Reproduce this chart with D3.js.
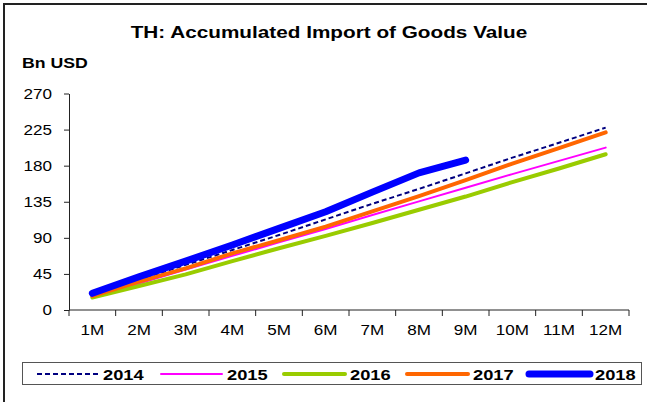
<!DOCTYPE html>
<html>
<head>
<meta charset="utf-8">
<script src="https://cdn.jsdelivr.net/npm/d3@7"></script>
<style>
  html, body { margin: 0; padding: 0; background: #fff; }
  svg { display: block; font-family: "Liberation Sans", Arial, sans-serif; }
</style>
</head>
<body>
<svg id="chart" width="647" height="402"></svg>
<script>
// Months on the category axis
const months = ["1M", "2M", "3M", "4M", "5M", "6M", "7M", "8M", "9M", "10M", "11M", "12M"];
// Y axis ticks (Bn USD)
const yTicks = [0, 45, 90, 135, 180, 225, 270];

// Accumulated import value, Bn USD
const y2014 = [20.2, 37.6, 56.3, 74.8, 93.5, 113.0, 132.5, 151.0, 170.4, 190.0, 208.5, 227.5];
const y2015 = [17.0, 33.0, 50.5, 67.5, 84.3, 101.0, 118.5, 135.5, 152.5, 169.5, 186.0, 202.5];
const y2016 = [15.5, 30.0, 44.5, 61.0, 77.0, 92.5, 108.5, 125.0, 141.5, 159.5, 176.5, 194.2];
const y2017 = [17.5, 35.3, 52.0, 70.7, 87.0, 104.0, 123.0, 142.0, 162.0, 182.5, 202.0, 221.5];
const y2018 = [20.8, 41.5, 61.0, 81.0, 101.8, 122.6, 147.0, 171.0, 187.0];

const series = [
  { name: "2014", values: y2014, color: "#000080", width: 2, dash: "5,3" },
  { name: "2015", values: y2015, color: "#FF00FF", width: 2, dash: null },
  { name: "2016", values: y2016, color: "#99CC00", width: 4, dash: null },
  { name: "2017", values: y2017, color: "#FF6600", width: 4, dash: null },
  { name: "2018", values: y2018, color: "#0000FF", width: 7, dash: null }
];

const svg = d3.select("#chart");
const STRETCH = 1.22; // text is set slightly wide

// helper: text placed at (x, y), widened horizontally
function label(parent, x, y, str, opts) {
  const t = parent.append("text")
    .attr("transform", `translate(${x},${y}) scale(${STRETCH},1)`)
    .attr("text-anchor", opts.anchor || "start")
    .attr("font-size", opts.size)
    .attr("font-weight", opts.bold ? "bold" : "normal")
    .attr("fill", "#000")
    .text(str);
  return t;
}

// outer frame (top and left edges)
svg.append("path")
  .attr("d", "M4,402 L4,4 L647,4")
  .attr("fill", "none")
  .attr("stroke", "#222")
  .attr("stroke-width", 2);

// title
label(svg, 329, 38, "TH: Accumulated Import of Goods Value", { size: 17, bold: true, anchor: "middle" });
label(svg, 22, 68, "Bn USD", { size: 14.5, bold: true });

const plot = { left: 69, right: 629, top: 93.5, bottom: 310 };

const x = d3.scaleBand().domain(months).range([plot.left, plot.right]).paddingInner(0).paddingOuter(0);
const y = d3.scaleLinear().domain([0, 270]).range([plot.bottom, plot.top]);

// y axis
const yAxis = svg.append("g")
  .attr("transform", `translate(${plot.left},0)`)
  .call(d3.axisLeft(y).tickValues(yTicks).tickSize(5).tickSizeOuter(0).tickFormat(""));
yAxis.selectAll("line, path").attr("stroke", "#222");
const yLab = svg.append("g");
yTicks.forEach(v => label(yLab, 52, y(v) + 5, String(v), { size: 14, anchor: "end" }));

// x axis with ticks on category boundaries
const xAxis = svg.append("g")
  .attr("transform", `translate(0,${plot.bottom})`);
xAxis.append("line")
  .attr("x1", plot.left).attr("x2", plot.right)
  .attr("stroke", "#222");
const bounds = months.map(m => x(m)).concat([plot.right]);
xAxis.selectAll("line.tick")
  .data(bounds).enter().append("line")
  .attr("class", "tick")
  .attr("x1", d => d).attr("x2", d => d)
  .attr("y1", 0).attr("y2", 6)
  .attr("stroke", "#222");
months.forEach(m => label(xAxis, x(m) + x.bandwidth() / 2, 25, m, { size: 14, anchor: "middle" }));

// lines
const line = d3.line()
  .x((d, i) => x(months[i]) + x.bandwidth() / 2)
  .y(d => y(d));

svg.append("g").selectAll("path")
  .data(series).enter().append("path")
  .attr("d", d => line(d.values))
  .attr("fill", "none")
  .attr("stroke", d => d.color)
  .attr("stroke-width", d => d.width)
  .attr("stroke-dasharray", d => d.dash)
  .attr("stroke-linecap", d => d.dash ? "butt" : "round")
  .attr("stroke-linejoin", "round");

// legend
const legend = svg.append("g");
legend.append("rect")
  .attr("x", 22.5).attr("y", 362.5)
  .attr("width", 619).attr("height", 22)
  .attr("fill", "#fff")
  .attr("stroke", "#555");
const legendX = [37, 161, 284, 407, 529];
series.forEach((s, i) => {
  const g = legend.append("g").attr("transform", `translate(${legendX[i]},374)`);
  g.append("line")
    .attr("x1", 0).attr("x2", 61)
    .attr("stroke", s.color)
    .attr("stroke-width", s.width)
    .attr("stroke-dasharray", s.dash)
    .attr("stroke-linecap", s.dash ? "butt" : "round");
  label(g, 66, 5.5, s.name, { size: 15, bold: true });
});
</script>
</body>
</html>
